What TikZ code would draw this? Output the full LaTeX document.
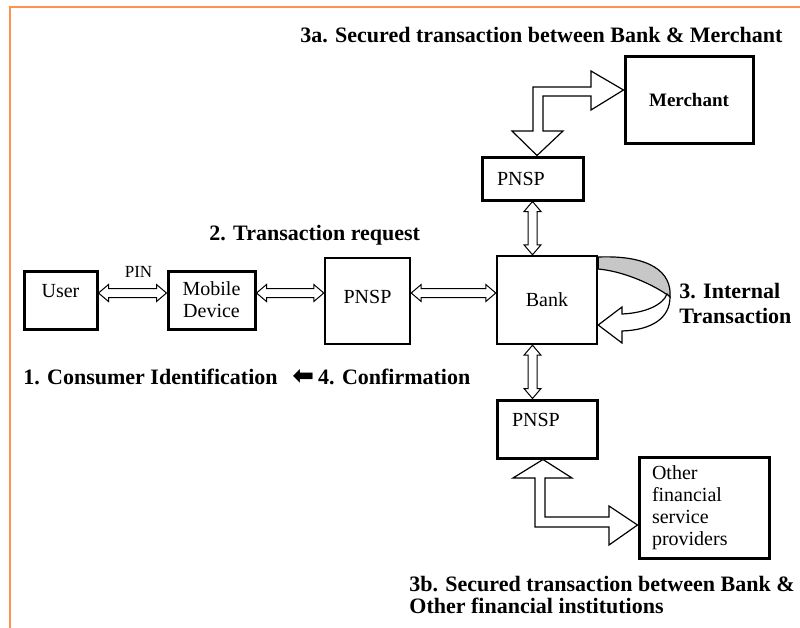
\documentclass[tikz,border=0pt]{standalone}
\usepackage{fontspec}
\setmainfont{Liberation Serif}
\newfontfamily\symfont{DejaVu Sans}
\usetikzlibrary{calc}
\definecolor{framec}{RGB}{255,146,80}

\begin{document}
\begin{tikzpicture}[x=0.5pt, y=-0.5pt, box/.style={draw, line width=1.5pt, inner sep=2pt, font=\fontsize{10}{11}\selectfont}]
    \tikzset{lbl/.style={inner sep=0pt, font=\fontsize{11}{12.5}\selectfont\bfseries}}
    \tikzset{bigarrow/.style={draw, fill=white, line width=0.6pt, line join=miter}}
    \def \pxu {0.5pt} \def \headlen {5pt} \def \headw {4.25pt} \def \shaftw {2.25pt}
    \tikzset{hollowboth/.style={draw, fill=white, line width=0.5pt, to path={
      -- ($(\tikztostart)!\headlen!(\tikztotarget)!\headw!90:(\tikztotarget)$)
      -- ($(\tikztostart)!\headlen!(\tikztotarget)!\shaftw!90:(\tikztotarget)$)
      -- ($(\tikztotarget)!\headlen!(\tikztostart)!\shaftw!-90:(\tikztostart)$)
      -- ($(\tikztotarget)!\headlen!(\tikztostart)!\headw!-90:(\tikztostart)$)
      -- (\tikztotarget)
      -- ($(\tikztotarget)!\headlen!(\tikztostart)!\headw!90:(\tikztostart)$)
      -- ($(\tikztotarget)!\headlen!(\tikztostart)!\shaftw!90:(\tikztostart)$)
      -- ($(\tikztostart)!\headlen!(\tikztotarget)!\shaftw!-90:(\tikztotarget)$)
      -- ($(\tikztostart)!\headlen!(\tikztotarget)!\headw!-90:(\tikztotarget)$)
      -- cycle}}}
    \useasboundingbox (0,0) rectangle (800,628);
    \draw[framec, line width=1pt] (10,628) -- (10,7) -- (800,7);

    \node[box, minimum width=73*\pxu, minimum height=58*\pxu, text depth=9pt] (user) at (60.5,300) {User};
    \node[box, minimum width=87*\pxu, minimum height=58*\pxu, align=center] (mobile) at (211.5,300) {Mobile\\Device};
    \node[box, line width=1.2pt, minimum width=85*\pxu, minimum height=86*\pxu, text depth=4pt] (pnspmid) at (367.5,301) {PNSP};
    \node[box, line width=1.2pt, minimum width=100*\pxu, minimum height=88*\pxu] (bank) at (547,300) {Bank};
    \node[box, minimum width=101*\pxu, minimum height=43*\pxu, text width=35.5pt, align=left] (pnsptop) at (532.5,178.5) {PNSP};
    \node[box, minimum width=128*\pxu, minimum height=87*\pxu, font=\fontsize{9.5}{11}\selectfont\bfseries] (merchant) at (689,100) {Merchant};
    \node[box, minimum width=100*\pxu, minimum height=58*\pxu, text width=35pt, align=left, text depth=9pt] (pnspbot) at (547,429) {PNSP};
    \node[box, minimum width=130*\pxu, minimum height=101*\pxu, text width=52pt, align=left] (other) at (704,507.5) {Other\\financial\\service\\providers};

    \coordinate (lane) at (0,293);
    \draw[hollowboth] (user.east |- lane) to (mobile.west |- lane);
    \draw[hollowboth] (mobile.east |- lane) to (pnspmid.west |- lane);
    \draw[hollowboth] (pnspmid.east |- lane) to (bank.west |- lane);
    \draw[hollowboth] (pnsptop.south) to (pnsptop.south |- bank.north);
    \draw[hollowboth] (bank.south -| pnsptop.south) to (pnspbot.north -| pnsptop.south);

    \draw[bigarrow] (pnsptop.north -| 537,0) -- (563,131) -- (543,131) -- (543,96) -- (591,96) -- (591,110) -- (merchant.west |- 0,90) -- (591,71) -- (591,87) -- (533,87) -- (533,131) -- (512,131) -- cycle;
    \draw[bigarrow] (pnspbot.south -| 543,0) -- (572,478) -- (545,478) -- (545,517) -- (609,517) -- (609,506) -- (other.west |- 0,525) -- (609,545) -- (609,527) -- (535,527) -- (535,478) -- (513,478) -- cycle;

    \draw[bigarrow, fill=black!22] (bank.east |- 0,257) .. controls (650,255) and (672,272) .. (670,297) .. controls (662,290) and (630,272) .. (bank.east |- 0,269) -- cycle;
    \draw[bigarrow] (670,297) .. controls (670,318) and (652,330) .. (622,331) -- (622,343) -- (bank.east |- 0,325) -- (622,307) -- (622,314) .. controls (645,313) and (663,305) .. (667,294) -- cycle;

    \node[lbl, anchor=base west] (lbl3a) at (300,42) {3a. Secured transaction between Bank \& Merchant};
    \node[lbl, anchor=base west] (lbl2) at (209,240) {2. Transaction request};
    \node[lbl, anchor=base west] (lbl1) at (23,384) {1. Consumer Identification};
    \node[lbl, anchor=base west] (lbl4) at (292,384) {{\symfont\fontsize{13}{14}\selectfont ⬅}\hspace{2pt}4. Confirmation};
    \node[lbl, anchor=west, align=left] (lbl3) at (679,303) {3. Internal\\Transaction};
    \node[lbl, anchor=west, align=left, font=\fontsize{11}{11}\selectfont\bfseries] (lbl3b) at (409,594.5) {3b. Secured transaction between Bank \&\\Other financial institutions};
    \node[font=\fontsize{8.5}{10}\selectfont] (pin) at (138.5,271.5) {PIN};
\end{tikzpicture}
\end{document}
